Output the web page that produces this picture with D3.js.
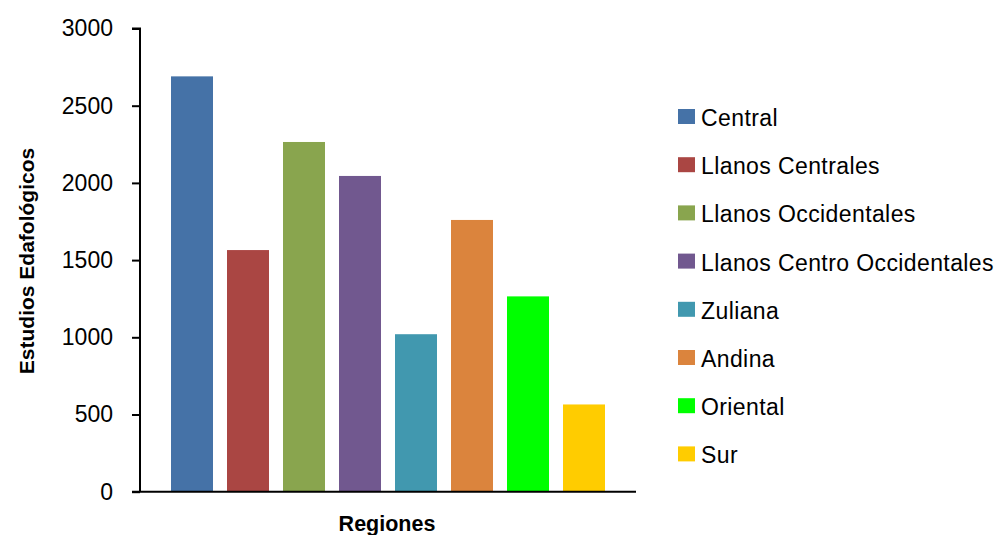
<!DOCTYPE html>
<html>
<head>
<meta charset="utf-8">
<script src="https://cdn.jsdelivr.net/npm/d3@7"></script>
<style>
  body { margin: 0; background: #fff; }
  text { font-family: "Liberation Sans", Arial, sans-serif; fill: #000; }
</style>
</head>
<body>
<script>
const regions = ['Central', 'Llanos Centrales', 'Llanos Occidentales', 'Llanos Centro Occidentales',
  'Zuliana', 'Andina', 'Oriental', 'Sur'];
const estudios = [2690, 1565, 2265, 2045, 1020, 1760, 1265, 565];
const colors = ['#4572A7', '#AA4643', '#89A54E', '#71588F', '#4198AF', '#DB843D', '#00FF00', '#FFCC00'];
const yTicks = [0, 500, 1000, 1500, 2000, 2500, 3000];

const width = 998;
const height = 535;

const svg = d3.select('body')
  .append('svg')
  .attr('width', width)
  .attr('height', height);

const y = d3.scaleLinear()
  .domain([0, 3000])
  .range([491.7, 28.5]);

// bars are grouped in the middle of the axis
const x = d3.scaleBand()
  .domain(regions)
  .range([171, 605])
  .paddingInner(0.25)
  .paddingOuter(0);

svg.append('g')
  .selectAll('rect')
  .data(regions)
  .enter()
  .append('rect')
  .attr('x', d => x(d))
  .attr('width', x.bandwidth())
  .attr('y', (d, i) => y(estudios[i]))
  .attr('height', (d, i) => y(0) - y(estudios[i]))
  .style('fill', (d, i) => colors[i]);

const yAxis = svg.append('g')
  .attr('transform', 'translate(140,0)')
  .call(d3.axisLeft(y).tickValues(yTicks).tickFormat(d3.format('d')).tickSize(8).tickPadding(19));
yAxis.select('.domain').attr('stroke-width', 2).attr('d', `M-8,${y(3000)}H0V${y(0)}`);
yAxis.selectAll('.tick line').attr('stroke-width', 2);
yAxis.selectAll('.tick text').style('font-size', '23px').attr('font-family', null);

svg.append('line')
  .attr('x1', 132)
  .attr('x2', 636)
  .attr('y1', y(0))
  .attr('y2', y(0))
  .style('stroke', '#000')
  .style('stroke-width', 2);

svg.append('text')
  .attr('transform', 'translate(34,261) rotate(-90)')
  .attr('text-anchor', 'middle')
  .style('font-size', '21px')
  .style('font-weight', 'bold')
  .text('Estudios Edafológicos');

svg.append('text')
  .attr('x', 387)
  .attr('y', 531)
  .attr('text-anchor', 'middle')
  .style('font-size', '21.5px')
  .style('font-weight', 'bold')
  .text('Regiones');

// Legend
const legend = svg.append('g')
  .selectAll('g')
  .data(regions)
  .enter()
  .append('g')
  .attr('transform', (d, i) => `translate(678,${109 + i * 48.2})`);

legend.append('rect')
  .attr('width', 17)
  .attr('height', 15)
  .style('fill', (d, i) => colors[i]);

legend.append('text')
  .attr('x', 23)
  .attr('y', 17)
  .style('font-size', '23px')
  .style('letter-spacing', '0.4px')
  .text(d => d);
</script>
</body>
</html>
